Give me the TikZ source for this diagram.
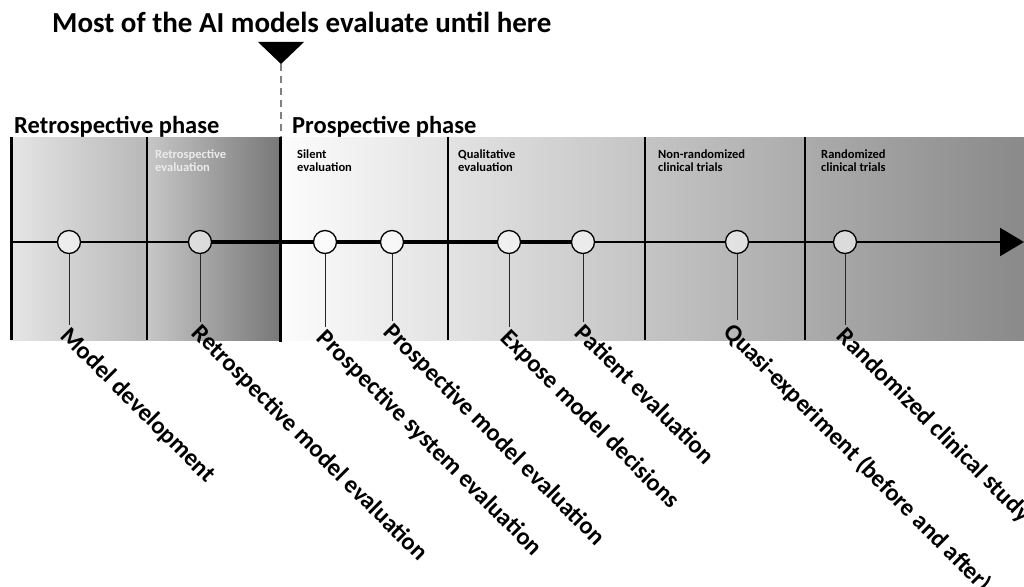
\documentclass[tikz,border=0pt]{standalone}
\usepackage{fontspec}
\setmainfont{Carlito}
\usetikzlibrary{arrows.meta}

\begin{document}
\begin{tikzpicture}[x=1pt,y=-1pt,
	milestone/.style={circle, draw, line width=1.3pt, fill=white, fill opacity=0.6, inner sep=0pt, minimum size=23pt},
	stage/.style={rotate=-45, anchor=north west, inner sep=0pt, font=\bfseries\fontsize{24.5}{27}\selectfont},
	trial/.style={anchor=north west, align=left, inner sep=0pt, font=\bfseries\fontsize{12.5}{13}\selectfont},
	phase/.style={anchor=base west, inner sep=0pt, font=\bfseries\fontsize{24.5}{27}\selectfont},
	stem/.style={line width=0.8pt, black!85}]
				\useasboundingbox (0,0) rectangle (1024,586);
				
				% gray band behind the time line
				\shade[left color=black!10, right color=black!28] (11,137) rectangle (147,340);
				\shade[left color=black!22, right color=black!53] (147,137) rectangle (280,340);
				\shade[left color=black!1, right color=black!46] (280,137) rectangle (1024,340);
				
				\draw[line width=3pt] (11,137) -- (11,340);
				\draw[line width=1.3pt] (147,137) -- (147,340);
				\draw[line width=3pt] (280,137) -- (280,342);
				\draw[line width=1.3pt] (448,137) -- (448,340);
				\draw[line width=2.4pt] (645,137) -- (645,340);
				\draw[line width=1.3pt] (805,137) -- (805,340);
				
				\node[phase] (retro-ph) at (14,133) {Retrospective phase};
				\node[phase] (pros-ph) at (292,133) {Prospective phase};
				
				\node[trial, text=black!8] (retro-t) at (155,150) {Retrospective\\evaluation};
				\node[trial] (silent-t) at (297,150) {Silent\\evaluation};
				\node[trial] (qual-t) at (458,150) {Qualitative\\evaluation};
				\node[trial] (nonrct-t) at (658,150) {Non-randomized\\clinical trials};
				\node[trial] (rct-t) at (821,150) {Randomized\\clinical trials};
				
				% marker for where most evaluations stop
				\node[anchor=base west, inner sep=0pt, font=\bfseries\fontsize{29}{32}\selectfont] (title) at (52,33) {Most of the AI models evaluate until here};
				\fill (258,42) -- (304,42) -- (281,64) -- cycle;
				\coordinate (apex) at (281,64);
				\coordinate (cut) at (281,137);
				\draw[black!50, line width=2.5pt, dash pattern=on 7pt off 5pt] (apex) -- (cut);
				
				% time line
				\coordinate (start) at (11,242);
				\coordinate (end) at (1024,242);
				\node[milestone] (dev) at (69,242) {};
				\node[milestone] (retro) at (200,242) {};
				\node[milestone] (psys) at (325,242) {};
				\node[milestone] (pmod) at (392,242) {};
				\node[milestone] (expose) at (509,242) {};
				\node[milestone] (patient) at (583,242) {};
				\node[milestone] (quasi) at (737,242) {};
				\node[milestone] (rct) at (845,242) {};
				
				\draw[line width=1.5pt] (start) -- (dev);
				\draw[line width=1.5pt] (dev) -- (retro);
				\draw[line width=3.5pt] (retro) -- (psys);
				\draw[line width=4pt] (psys) -- (pmod);
				\draw[line width=4pt] (pmod) -- (expose);
				\draw[line width=3.5pt] (expose) -- (patient);
				\draw[line width=2.5pt] (patient) -- (quasi);
				\draw[line width=2.2pt] (quasi) -- (rct);
				\draw[line width=2.2pt, -{Triangle[length=24pt, width=28pt]}] (rct) -- (end);
				
				% stems end here, labels hang off them
				\coordinate (dev-e) at (69,325);
				\coordinate (retro-e) at (200,322);
				\coordinate (psys-e) at (325,327);
				\coordinate (pmod-e) at (392,321);
				\coordinate (expose-e) at (509,327);
				\coordinate (patient-e) at (583,322);
				\coordinate (quasi-e) at (737,320);
				\coordinate (rct-e) at (845,325);
				
				\draw[stem] (dev) -- (dev-e);
				\draw[stem] (retro) -- (retro-e);
				\draw[stem] (psys) -- (psys-e);
				\draw[stem] (pmod) -- (pmod-e);
				\draw[stem] (expose) -- (expose-e);
				\draw[stem] (patient) -- (patient-e);
				\draw[stem] (quasi) -- (quasi-e);
				\draw[stem] (rct) -- (rct-e);
				
				\node[stage] (dev-l) at ([shift={(3,0)}]dev-e) {Model development};
				\node[stage] (retro-l) at ([shift={(3,0)}]retro-e) {Retrospective model evaluation};
				\node[stage] (psys-l) at ([shift={(3,0)}]psys-e) {Prospective system evaluation};
				\node[stage] (pmod-l) at ([shift={(3,0)}]pmod-e) {Prospective model evaluation};
				\node[stage] (expose-l) at ([shift={(3,0)}]expose-e) {Expose model decisions};
				\node[stage] (patient-l) at ([shift={(3,0)}]patient-e) {Patient evaluation};
				\node[stage] (quasi-l) at ([shift={(-2,0)}]quasi-e) {Quasi-experiment (before and after)};
				\node[stage] (rct-l) at ([shift={(3,0)}]rct-e) {Randomized clinical study};
			\end{tikzpicture}
\end{document}
